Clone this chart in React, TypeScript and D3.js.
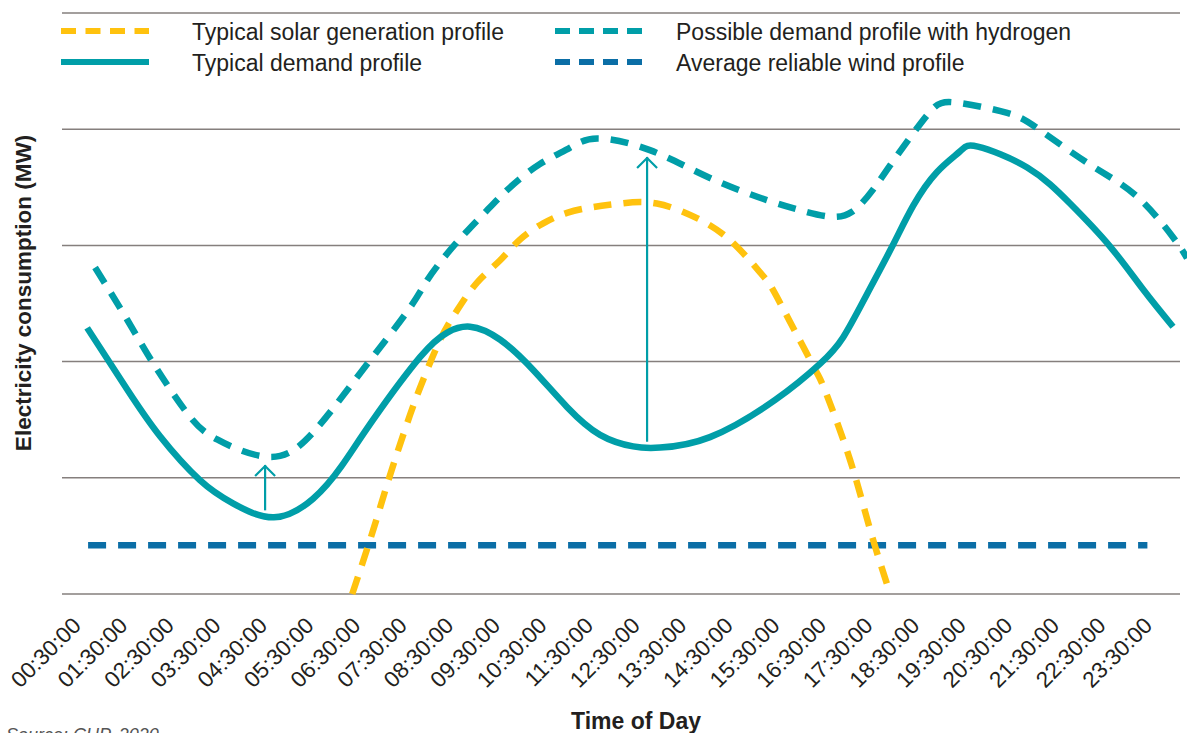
import * as React from "react";
import * as d3 from "d3";

// Hours of day (x) and electricity consumption (y, arbitrary MW units)
const demandHours = [0.54, 1.4, 2.1, 2.96, 3.67, 4.55, 5.39, 6.0, 6.68, 7.69, 8.27, 8.76, 9.4, 10.11, 10.84, 11.55, 12.26, 12.84, 13.91, 15.31, 16.27, 16.77, 17.28, 17.82, 18.27, 18.78, 19.28, 19.66, 20.72, 21.64, 22.5, 23.21, 23.85];
const demandValues = [22.9, 17.6, 13.6, 9.8, 7.8, 6.6, 8.2, 11.0, 15.0, 20.4, 22.5, 23.0, 21.9, 19.3, 16.1, 13.7, 12.7, 12.6, 13.5, 16.7, 19.8, 22.1, 25.8, 29.9, 33.4, 36.3, 38.1, 38.5, 36.7, 33.6, 29.9, 26.2, 23.0];

const hydrogenHours = [0.71, 1.4, 1.95, 2.68, 3.33, 4.47, 5.39, 6.4, 7.41, 7.84, 8.27, 8.69, 9.12, 9.62, 10.26, 10.9, 11.49, 12.62, 13.91, 15.13, 15.78, 16.42, 16.96, 17.41, 17.78, 18.57, 19.17, 20.29, 21.0, 22.13, 23.08, 23.85, 24.15];
const hydrogenValues = [28.1, 23.6, 19.9, 15.6, 13.3, 11.8, 13.9, 19.0, 24.3, 27.0, 29.3, 31.2, 33.0, 35.0, 37.0, 38.4, 39.2, 38.2, 35.8, 33.9, 33.1, 32.5, 32.9, 34.8, 36.9, 41.2, 42.3, 41.4, 39.9, 36.8, 34.2, 30.7, 28.9];

const solarHours = [6.23, 6.68, 7.04, 7.47, 7.75, 8.12, 8.48, 8.91, 9.4, 9.83, 10.33, 10.84, 11.4, 11.98, 12.77, 13.7, 14.41, 14.98, 15.26, 15.63, 15.91, 16.21, 16.42, 16.92, 17.35, 17.78];
const solarValues = [0, 5.5, 10.2, 15.4, 18.4, 21.9, 24.4, 26.8, 28.7, 30.5, 31.9, 32.8, 33.3, 33.6, 33.6, 32.2, 30.2, 27.7, 26.2, 23.4, 21.3, 19.0, 17.1, 11.5, 5.5, 0];

const windHours = [0.56, 23.3];
const windValues = [4.2, 4.2];

// Hydrogen uplift arrows: hour, base, tip
const arrowHours = [4.36, 12.56];
const arrowFrom = [7.2, 13.1];
const arrowTo = [11.1, 37.6];

const gridValues = [0, 10, 20, 30, 40, 50];

const timeLabels = [
  "00:30:00", "01:30:00", "02:30:00", "03:30:00", "04:30:00", "05:30:00",
  "06:30:00", "07:30:00", "08:30:00", "09:30:00", "10:30:00", "11:30:00",
  "12:30:00", "13:30:00", "14:30:00", "15:30:00", "16:30:00", "17:30:00",
  "18:30:00", "19:30:00", "20:30:00", "21:30:00", "22:30:00", "23:30:00",
];

const legendLabels = [
  "Typical solar generation profile",
  "Typical demand profile",
  "Possible demand profile with hydrogen",
  "Average reliable wind profile",
];

const TEAL = "#009ea8";
const YELLOW = "#ffc20e";
const WIND = "#0b6ea6";
const GRID = "#857f7d";
const INK = "#231f20";
const FONT = "'Liberation Sans', Arial, sans-serif";

export default function App() {
  const width = 1187;
  const height = 733;

  const x = d3.scaleLinear().domain([0, 24]).range([62, 1180]);
  const y = d3.scaleLinear().domain([0, 50]).range([594, 13]);

  const line = d3
    .line<[number, number]>()
    .x((d) => x(d[0]))
    .y((d) => y(d[1]))
    .curve(d3.curveNatural);

  const zip = (hs: number[], vs: number[]) => hs.map((h, i) => [h, vs[i]] as [number, number]);

  const series = [
    { data: zip(windHours, windValues), color: WIND, dash: "18 12" },
    { data: zip(solarHours, solarValues), color: YELLOW, dash: "18 12" },
    { data: zip(hydrogenHours, hydrogenValues), color: TEAL, dash: "18 12" },
    { data: zip(demandHours, demandValues), color: TEAL, dash: null },
  ];

  const legend = [
    { label: legendLabels[0], color: YELLOW, dash: "15 9.5", lx: 61, ly: 31 },
    { label: legendLabels[1], color: TEAL, dash: null, lx: 61, ly: 62 },
    { label: legendLabels[2], color: TEAL, dash: "15 9", lx: 555, ly: 31 },
    { label: legendLabels[3], color: WIND, dash: "15 9", lx: 555, ly: 62 },
  ];

  return (
    <svg width={width} height={height} style={{ display: "block", position: "absolute", left: 0, top: 0 }}>
      <rect width={width} height={height} fill="#ffffff" />

      {/* grid */}
      {gridValues.map((v) => (
        <line key={v} x1={62} x2={1180} y1={y(v)} y2={y(v)} stroke={GRID} strokeWidth={1.5} />
      ))}

      {/* legend */}
      {legend.map((l, i) => (
        <g key={i}>
          <line
            x1={l.lx}
            x2={l.lx + 88}
            y1={l.ly}
            y2={l.ly}
            stroke={l.color}
            strokeWidth={6}
            strokeDasharray={l.dash ?? undefined}
          />
          <text x={l.lx + (i < 2 ? 131 : 121)} y={l.ly + 9} fontFamily={FONT} fontSize={23} fill={INK}>
            {l.label}
          </text>
        </g>
      ))}

      {/* series */}
      {series.map((s, i) => (
        <path
          key={i}
          d={line(s.data) ?? ""}
          fill="none"
          stroke={s.color}
          strokeWidth={6.5}
          strokeDasharray={s.dash ?? undefined}
        />
      ))}

      {/* arrows */}
      {arrowHours.map((h, i) => {
        const ax = x(h);
        const tip = y(arrowTo[i]);
        return (
          <g key={i} stroke={TEAL} strokeWidth={2.2} fill="none">
            <line x1={ax} x2={ax} y1={y(arrowFrom[i])} y2={tip} />
            <polyline points={`${ax - 10},${tip + 11} ${ax},${tip + 1} ${ax + 10},${tip + 11}`} />
          </g>
        );
      })}

      {/* x tick labels */}
      {timeLabels.map((t) => {
        const h = +t.slice(0, 2) + +t.slice(3, 5) / 60;
        return (
          <text
            key={t}
            transform={`translate(${x(h) - 3},${627}) rotate(-45)`}
            textAnchor="end"
            fontFamily={FONT}
            fontSize={22.5}
            fill={INK}
          >
            {t}
          </text>
        );
      })}

      {/* axis titles */}
      <text
        transform={`translate(31,293) rotate(-90)`}
        textAnchor="middle"
        fontFamily={FONT}
        fontSize={22.5}
        fontWeight="bold"
        fill={INK}
      >
        Electricity consumption (MW)
      </text>
      <text x={636} y={729} textAnchor="middle" fontFamily={FONT} fontSize={23} fontWeight="bold" fill={INK}>
        Time of Day
      </text>
      <text x={6} y={741} fontFamily={FONT} fontSize={18} fontStyle="italic" fill="#555">
        Source: CHP, 2020
      </text>
    </svg>
  );
}
